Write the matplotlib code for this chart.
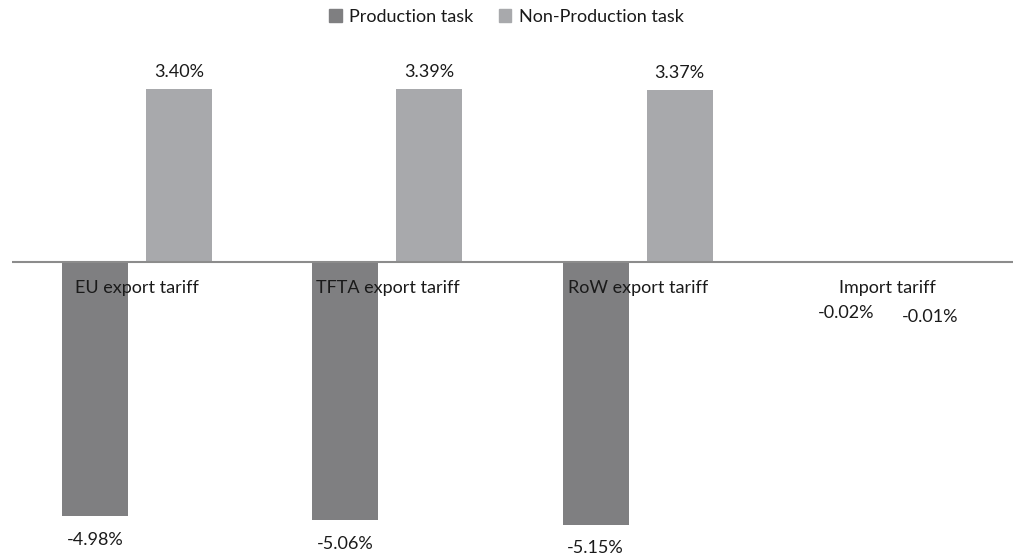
import numpy as np
import matplotlib.pyplot as plt
from matplotlib.patches import Patch

plt.rcParams['font.family'] = ['Lato', 'DejaVu Sans']

categories = ['EU export tariff', 'TFTA export tariff', 'RoW export tariff', 'Import tariff']
production = [-4.98, -5.06, -5.15, -0.02]
non_production = [3.40, 3.39, 3.37, -0.01]
series_names = ['Production task', 'Non-Production task']

dark = '#7f7f81'
light = '#a8a9ac'
text_col = '#1a1a1a'

fig = plt.figure(figsize=(10.13, 5.56), dpi=100)
ax = fig.add_axes([12 / 1013, 0, 1 - 12 / 1013, 1])

x = np.arange(len(categories))
w = 0.264
off = (w + 0.072) / 2

ax.bar(x - off, production, w, color=dark, zorder=2)
ax.bar(x + off, non_production, w, color=light, zorder=2)
ax.axhline(0, color='#8c8c8c', lw=1.5, zorder=3)

ax.set_xlim(-0.5, len(categories) - 0.5)
ax.set_ylim(-5.765, 5.137)
ax.axis('off')

# category names sit just under the zero line
for xi, name in zip(x, categories):
    ax.annotate(name, (xi, 0), xytext=(0, -19), textcoords='offset points',
                ha='center', va='center', fontsize=13, color=text_col)

# value labels at the end of each bar
def value_label(xi, v, extra=0):
    dy = 12 if v > 0 else -(17 + extra)
    ax.annotate(f'{v:.2f}%', (xi, v), xytext=(0, dy), textcoords='offset points',
                ha='center', va='center', fontsize=13, color=text_col)

for i in range(len(categories)):
    extra = 19 if i == len(categories) - 1 else 0
    value_label(x[i] - off, production[i], extra)
    value_label(x[i] + off, non_production[i], extra + (3 if i == len(categories) - 1 else 0))

handles = [Patch(color=dark), Patch(color=light)]
fig.legend(handles, series_names, loc='center', bbox_to_anchor=(0.5, 1 - 17 / 556),
           ncol=2, frameon=False, fontsize=13, handlelength=0.7, handleheight=0.7,
           handletextpad=0.4, columnspacing=1.4, labelcolor=text_col)

fig.savefig('out.png', dpi=100)
